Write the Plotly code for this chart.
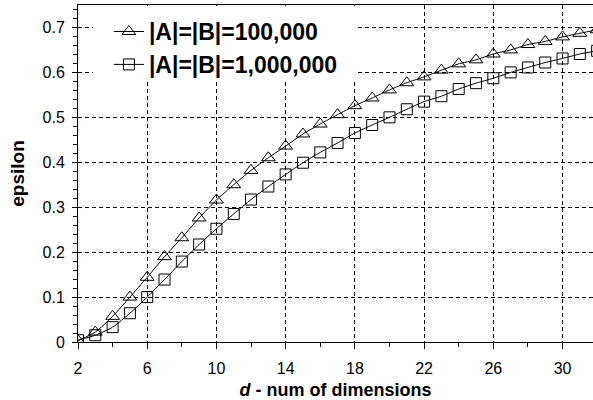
import plotly.graph_objects as go

d_values = list(range(2, 33))
eps_100k = [0.003, 0.022, 0.057, 0.100, 0.144, 0.190, 0.232, 0.276, 0.316, 0.350,
            0.382, 0.410, 0.436, 0.463, 0.485, 0.506, 0.526, 0.543, 0.561, 0.577,
            0.590, 0.605, 0.619, 0.628, 0.641, 0.650, 0.662, 0.669, 0.679, 0.687, 0.695]
eps_1m = [0.004, 0.015, 0.033, 0.064, 0.100, 0.139, 0.179, 0.217, 0.252, 0.285,
          0.317, 0.346, 0.373, 0.399, 0.422, 0.443, 0.465, 0.483, 0.500, 0.518,
          0.535, 0.547, 0.563, 0.576, 0.587, 0.600, 0.611, 0.622, 0.631, 0.641, 0.648]
series_names = ["|A|=|B|=100,000", "|A|=|B|=1,000,000"]
x_ticks = [2, 6, 10, 14, 18, 22, 26, 30]
y_ticks = [0, 0.1, 0.2, 0.3, 0.4, 0.5, 0.6, 0.7]
y_tick_text = ["0", "0.1", "0.2", "0.3", "0.4", "0.5", "0.6", "0.7"]

FONT = "Liberation Sans, Arial, sans-serif"

fig = go.Figure()
fig.add_trace(go.Scatter(
    x=d_values, y=eps_100k, name=series_names[0], mode="lines+markers",
    line=dict(color="black", width=1, shape="spline", smoothing=0.6),
    marker=dict(symbol="triangle-up-open", size=12, color="black", line=dict(width=1, color="black")),
))
fig.add_trace(go.Scatter(
    x=d_values, y=eps_1m, name=series_names[1], mode="lines+markers",
    line=dict(color="black", width=1, shape="spline", smoothing=0.6),
    marker=dict(symbol="square-open", size=11, color="black", line=dict(width=1, color="black")),
))

# white backdrop behind the legend (covers gridlines only)
fig.add_shape(type="rect", xref="x", yref="y", x0=2.85, x1=18.05, y0=0.58, y1=0.748,
              fillcolor="white", line=dict(width=0), layer="between")

fig.update_layout(
    width=593, height=400,
    margin=dict(l=78, r=0, t=5, b=58),
    paper_bgcolor="white", plot_bgcolor="white",
    font=dict(family=FONT, size=16, color="black"),
    showlegend=True,
    legend=dict(
        x=0.06, y=0.985, xanchor="left", yanchor="top",
        bgcolor="rgba(255,255,255,0)", borderwidth=0,
        font=dict(family=FONT, size=23, color="black", weight="bold"),
        itemwidth=30,
    ),
    xaxis=dict(
        range=[2, 31.76], tickmode="array", tickvals=x_ticks,
        ticks="outside", ticklen=6, tickwidth=1, tickcolor="black",
        showline=True, linecolor="black", linewidth=1, mirror=True,
        showgrid=True, gridcolor="black", gridwidth=1, griddash="4px,3px",
        zeroline=False,
        minor=dict(tickvals=[4, 8, 12, 16, 20, 24, 28], ticks="outside", ticklen=4,
                   tickcolor="black", showgrid=False),
        tickfont=dict(size=16),
        ticklabelstandoff=6,
        title=dict(text="<i>d</i> - num of dimensions", font=dict(size=18, weight="bold"), standoff=8),
    ),
    yaxis=dict(
        range=[0, 0.75], tickmode="array", tickvals=y_ticks, ticktext=y_tick_text,
        ticks="outside", ticklen=5, tickwidth=1, tickcolor="black",
        showline=True, linecolor="black", linewidth=1,
        showgrid=True, gridcolor="black", gridwidth=1, griddash="4px,3px",
        zeroline=False,
        minor=dict(dtick=0.02, ticks="outside", ticklen=4, tickcolor="black", showgrid=False),
        tickfont=dict(size=16),
        ticklabelstandoff=4,
        title=dict(text="epsilon", font=dict(size=19, weight="bold"), standoff=12),
    ),
)

fig.write_html("out.html", config={"displayModeBar": False},
               post_script="document.body.style.margin='0';document.body.style.overflow='hidden';")
